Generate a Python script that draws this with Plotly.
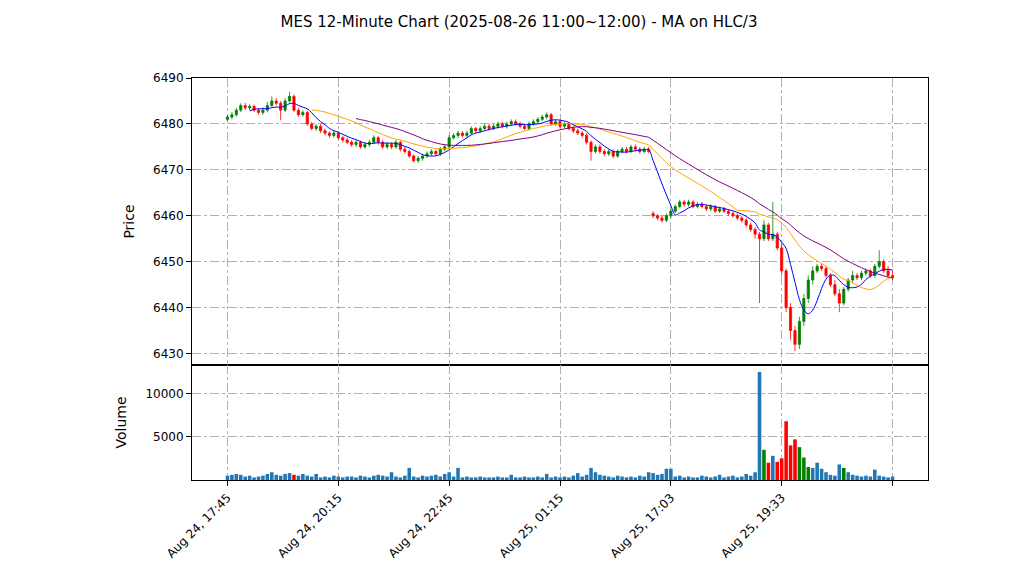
import pandas as pd
import plotly.graph_objects as go
from plotly.subplots import make_subplots

opens = [6481, 6481.5, 6482, 6483, 6484, 6483.5, 6483.8, 6483, 6482.5,
         6483, 6484, 6485, 6484.5, 6483, 6485,
         6486, 6483, 6482, 6482.5,
         6480, 6479, 6479.5, 6478.5, 6478, 6477.5, 6478,
         6477, 6476.5, 6476, 6475.5, 6476, 6475, 6475.5, 6476, 6477, 6476, 6475, 6475.5, 6475, 6476, 6474.5,
         6474, 6473, 6472, 6472.5, 6473,
         6473.5, 6474, 6473.5, 6474.5, 6475,
         6477, 6477.5, 6478, 6477.5, 6478, 6479, 6478.5, 6479,
         6479.5, 6479, 6479.5, 6480, 6479.5, 6480, 6480.5, 6480, 6479.5, 6479, 6480, 6480.5, 6481, 6481.5,
         6482, 6480, 6480.5, 6479.5, 6480, 6479, 6478.5, 6478, 6477.5,
         6476, 6474, 6475, 6474, 6473.5, 6474, 6473, 6474, 6474.5, 6474, 6475, 6474.5, 6474, 6474.5,
         6460.5, 6460, 6459.5, 6459, 6460,
         6461, 6462, 6463, 6462.5, 6463, 6462, 6462.5, 6462, 6461.5, 6462, 6461, 6461.5, 6461, 6460.5, 6460, 6459.5, 6459,
         6458, 6457, 6456, 6455, 6458, 6455, 6456, 6453,
         6448, 6440, 6435, 6432, 6437, 6442, 6446,
         6448, 6449, 6448.5, 6447, 6445, 6443, 6441,
         6444, 6446, 6447, 6446.5, 6447.5, 6448, 6447, 6449,
         6450, 6448, 6447]
closes = [6481.5, 6482, 6483, 6484, 6483.5, 6483.8, 6483, 6482.5, 6483,
          6484, 6485, 6484.5, 6483, 6485, 6486,
          6483, 6482, 6482.5, 6480,
          6479, 6479.5, 6478.5, 6478, 6477.5, 6478, 6477,
          6476.5, 6476, 6475.5, 6476, 6475, 6475.5, 6476, 6477, 6476, 6475, 6475.5, 6475, 6476, 6474.5, 6474,
          6473, 6472, 6472.5, 6473, 6473.5,
          6474, 6473.5, 6474.5, 6475, 6477,
          6477.5, 6478, 6477.5, 6478, 6479, 6478.5, 6479, 6479.5,
          6479, 6479.5, 6480, 6479.5, 6480, 6480.5, 6480, 6479.5, 6479, 6480, 6480.5, 6481, 6481.5, 6482,
          6480, 6480.5, 6479.5, 6480, 6479, 6478.5, 6478, 6477.5, 6476,
          6474, 6475, 6474, 6473.5, 6474, 6473, 6474, 6474.5, 6474, 6475, 6474.5, 6474, 6474.5, 6474,
          6460, 6459.5, 6459, 6460, 6461,
          6462, 6463, 6462.5, 6463, 6462, 6462.5, 6462, 6461.5, 6462, 6461, 6461.5, 6461, 6460.5, 6460, 6459.5, 6459, 6458,
          6457, 6456, 6455, 6458, 6455, 6456, 6453, 6448,
          6440, 6435, 6432, 6437, 6442, 6446, 6448,
          6449, 6448.5, 6447, 6445, 6443, 6441, 6444,
          6446, 6447, 6446.5, 6447.5, 6448, 6447, 6449, 6450,
          6448, 6447, 6446.5]
highs = [6482, 6482.6, 6483.5, 6484.5, 6484.6, 6484.3, 6484.2, 6483.4, 6483.6,
         6484.8, 6486, 6485.6, 6485, 6485.6, 6487,
         6486.4, 6483.5, 6483, 6482.8,
         6480.4, 6480, 6480, 6479, 6478.4, 6478.5, 6478.4,
         6477.4, 6477, 6476.5, 6476.5, 6476.4, 6476, 6476.5, 6477.5, 6477.4, 6476.5, 6476, 6476, 6476.5, 6476.4, 6475,
         6474.4, 6473.4, 6473, 6473.5, 6474,
         6474.5, 6474.4, 6475, 6475.5, 6477.6,
         6478, 6478.5, 6478.4, 6478.5, 6479.5, 6479.4, 6479.5, 6480,
         6480, 6480, 6480.5, 6480.5, 6480.5, 6481, 6481, 6480.5, 6480, 6480.5, 6481, 6481.5, 6482, 6482.5,
         6482.4, 6481, 6481, 6480.5, 6480.4, 6479.5, 6479, 6478.5, 6478,
         6476.4, 6475.5, 6475.5, 6474.5, 6474.5, 6474.5, 6474.5, 6475, 6475, 6475.5, 6475.5, 6475, 6475, 6475,
         6461, 6460.4, 6460, 6460.5, 6461.5,
         6462.5, 6463.5, 6463.4, 6463.5, 6463.4, 6463, 6463, 6462.4, 6462.5, 6462.4, 6462, 6462, 6461.4, 6461, 6460.5, 6460, 6459.5,
         6458.5, 6457.5, 6456.5, 6459, 6458.5, 6463, 6456.5, 6454,
         6448.5, 6441, 6436, 6438, 6443, 6447, 6449,
         6449.5, 6449.5, 6449, 6447.5, 6446, 6444, 6444.5,
         6446.5, 6448, 6447.5, 6448, 6448.5, 6448.5, 6449.5, 6452.5,
         6450.5, 6449, 6448]
lows = [6480.6, 6481, 6481.6, 6482.6, 6483, 6483, 6482.6, 6482, 6482,
        6482.5, 6483.6, 6484, 6480.8, 6482.6, 6484.6,
        6482.6, 6481.5, 6481.6, 6479.6,
        6478.6, 6478.5, 6478, 6477.5, 6477, 6477, 6476.6,
        6476, 6475.6, 6475, 6475, 6474.6, 6474.6, 6475, 6475.6, 6475.5, 6474.6, 6474.6, 6474.5, 6474.6, 6474, 6473.5,
        6472.6, 6471.6, 6471.5, 6472, 6472.6,
        6473, 6473, 6473, 6474, 6474.6,
        6476.6, 6477, 6477, 6477, 6477.6, 6478, 6478, 6478.6,
        6478.6, 6478.6, 6479, 6479, 6479, 6479.6, 6479.6, 6479, 6478.6, 6478.6, 6479.6, 6480, 6480.6, 6481,
        6479.6, 6479.6, 6479, 6479, 6478.6, 6478, 6477.6, 6477, 6475.5,
        6472, 6473.6, 6473.5, 6473, 6473, 6472.5, 6472.6, 6473.6, 6473.6, 6473.6, 6474, 6473.5, 6473.6, 6473.6,
        6459.5, 6459, 6458.5, 6458.6, 6459.5,
        6460.6, 6461.6, 6462, 6462, 6461.6, 6461.6, 6461.6, 6461, 6461, 6460.6, 6460.6, 6460.6, 6460, 6459.6, 6459, 6458.5, 6457.5,
        6456.5, 6455, 6441, 6454.5, 6454.5, 6454.5, 6452.5, 6447,
        6439, 6433, 6430.5, 6431, 6436, 6441, 6445,
        6447.5, 6448, 6446.5, 6444.5, 6442.5, 6439, 6440.5,
        6443.5, 6445.5, 6446, 6446, 6447, 6446.5, 6446.5, 6448.5,
        6447.5, 6446.5, 6446]
volumes = [500, 600, 700, 600, 400, 500, 300, 400, 500,
           700, 900, 600, 500, 700, 800,
           600, 500, 700, 500,
           400, 700, 300, 400, 300, 500, 400,
           300, 400, 400, 300, 500, 400, 300, 500, 600, 500, 400, 900, 400, 300, 500,
           1400, 400, 300, 500, 400,
           500, 600, 400, 700, 900,
           400, 1400, 300, 400, 300, 300, 400, 300,
           300, 300, 400, 300, 300, 600, 300, 300, 400, 300, 300, 400, 300, 700,
           300, 400, 300, 400, 300, 500, 800, 400, 600,
           1400, 900, 600, 500, 400, 300, 500, 400, 300, 400, 300, 500, 400, 900,
           800, 600, 700, 1300, 1300,
           400, 500, 300, 400, 300, 300, 500, 400, 300, 400, 600, 300, 400, 500, 300, 400, 700,
           500, 900, 12500, 3500, 2000, 2800, 2100, 2500,
           6800, 4000, 4700, 3800, 2600, 1500, 1400,
           2000, 1300, 900, 600, 500, 1800, 1400,
           900, 600, 500, 400, 500, 400, 1200, 500,
           400, 300, 400]
tick_labels = ["Aug 24, 17:45", "Aug 24, 20:15", "Aug 24, 22:45",
               "Aug 25, 01:15", "Aug 25, 17:03", "Aug 25, 19:33", ""]

df = pd.DataFrame(dict(o=opens, h=highs, l=lows, c=closes, v=volumes))
hlc3 = (df.h + df.l + df.c) / 3
ma_fast = hlc3.rolling(6).mean()
ma_mid = hlc3.rolling(20).mean()
ma_slow = hlc3.rolling(30).mean()
x = list(range(len(df)))

vcol = []
for o, c in zip(opens, closes):
    if c - o >= 3:
        vcol.append("green")
    elif o - c >= 3:
        vcol.append("red")
    else:
        vcol.append("#1f77b4")

fig = make_subplots(rows=2, cols=1, shared_xaxes=True, vertical_spacing=0,
                    row_heights=[0.714, 0.286])
fig.add_trace(go.Candlestick(x=x, open=df.o, high=df.h, low=df.l, close=df.c,
                             increasing=dict(line=dict(color="green", width=0.8), fillcolor="green"),
                             decreasing=dict(line=dict(color="red", width=0.8), fillcolor="red"),
                             whiskerwidth=0, showlegend=False), row=1, col=1)
fig.add_trace(go.Scatter(x=x, y=ma_fast, mode="lines", line=dict(color="blue", width=1, shape="spline"),
                         showlegend=False), row=1, col=1)
fig.add_trace(go.Scatter(x=x, y=ma_mid, mode="lines", line=dict(color="orange", width=1, shape="spline"),
                         showlegend=False), row=1, col=1)
fig.add_trace(go.Scatter(x=x, y=ma_slow, mode="lines", line=dict(color="purple", width=1, shape="spline"),
                         showlegend=False), row=1, col=1)
fig.add_trace(go.Bar(x=x, y=df.v, marker=dict(color=vcol, line=dict(width=0)), width=0.8,
                     showlegend=False), row=2, col=1)

axis_style = dict(showline=True, linecolor="black", mirror=True, showgrid=True,
                  gridcolor="#b0b0b0", griddash="dashdot", zeroline=False,
                  ticks="outside", tickcolor="black", automargin=False)
fig.update_xaxes(**axis_style, range=[-8, 158], rangeslider_visible=False,
                 tickvals=[0, 25, 50, 75, 100, 125, 150], ticktext=tick_labels)
fig.update_xaxes(showticklabels=False, row=1, col=1)
fig.update_xaxes(tickangle=-45, row=2, col=1)
fig.update_yaxes(**axis_style)
fig.update_yaxes(range=[6427.5, 6490], dtick=10, tickformat="d", title_text="Price", row=1, col=1)
fig.update_yaxes(range=[0, 13300], tickvals=[5000, 10000], tickformat="d", title_text="Volume", row=2, col=1)

fig.update_layout(
    width=1022, height=575,
    margin=dict(l=184, r=102, t=70, b=103),
    plot_bgcolor="white", paper_bgcolor="white",
    font=dict(family="DejaVu Sans", size=12, color="black"),
    title=dict(text="MES 12-Minute Chart (2025-08-26 11:00~12:00) - MA on HLC/3",
               x=0.5, y=0.985, xanchor="center", yanchor="top", font=dict(size=15)),
    bargap=0.2,
)
fig.write_html("out.html")
